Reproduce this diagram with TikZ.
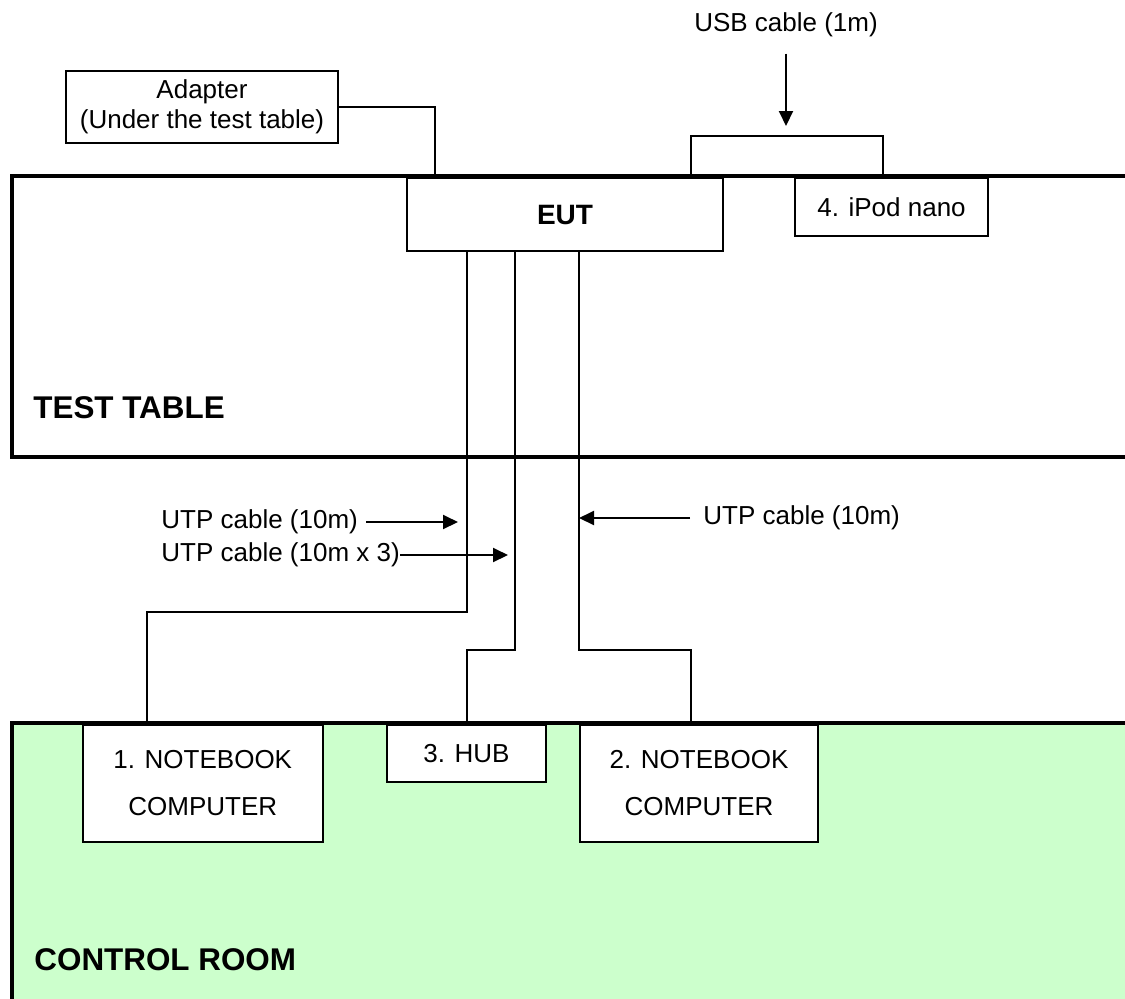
\documentclass[tikz,border=0pt]{standalone}
\usepackage{fontspec}
\setmainfont{Liberation Sans}
\usetikzlibrary{arrows.meta}
\definecolor{roomgreen}{HTML}{CCFFCC}
\tikzset{
         box/.style={draw,fill=white,line width=1pt,inner sep=0pt,align=center,font=\fontsize{13}{15}\selectfont},
         wall/.style={line width=2.25pt},
         cable/.style={line width=1pt},
         lbl/.style={inner sep=0pt,font=\fontsize{13}{15}\selectfont},
         roomlbl/.style={inner sep=0pt,anchor=west,font=\fontsize{15.7}{18}\selectfont\bfseries},
         ar/.style={line width=1pt,-{Triangle[length=7.5pt,width=7pt]}}
        }

\begin{document}
\begin{tikzpicture}[x=0.5pt,y=-0.5pt]
\useasboundingbox(0,0)rectangle(1125,998);

%rooms
\fill[roomgreen](12,723)rectangle(1130,1003);
\draw[wall](1130,723)--(12,723)--(12,1003);
\draw[wall](1130,176)--(12,176)--(12,457)--(1130,457);
\node[roomlbl](tbl)at(33,408){TEST TABLE};
\node[roomlbl](ctl)at(34,960){CONTROL ROOM};

%equipment
\node[box,minimum width=136pt,minimum height=36pt](adapter)at(202,107){Adapter\\(Under the test table)};
\node[box,minimum width=158pt,minimum height=36.5pt,font=\fontsize{14}{16}\selectfont\bfseries](eut)at(565,214.5){EUT};
\node[box,minimum width=96.5pt,minimum height=29pt](ipod)at(891.5,207){4. iPod nano};
\node[box,minimum width=120pt,minimum height=58.5pt](nb1)at(202.75,783.5){1. NOTEBOOK\\[8.5pt]COMPUTER};
\node[box,minimum width=79.5pt,minimum height=28.5pt](hub)at(466.5,753.5){3. HUB};
\node[box,minimum width=119pt,minimum height=58.5pt](nb2)at(699,783.5){2. NOTEBOOK\\[8.5pt]COMPUTER};

%power and usb
\coordinate(pw)at(435,176);
\draw[cable](adapter.east)-|(pw);
\coordinate(usba)at(691,176);
\coordinate(usbb)at(883,176);
\coordinate(usbtop)at(786,136);
\draw[cable](usba)|-(usbtop)-|(usbb);
\node[lbl](usblbl)at(786,25){USB cable (1m)};
\draw[ar,shorten <=8pt,shorten >=5pt](usblbl.south)--(usbtop);

%utp cables
\coordinate(e1)at(467,251);
\coordinate(e2)at(515,251);
\coordinate(e3)at(579,251);
\draw[cable](e1)--++(0,361)-|([xshift=-27.9pt]nb1.north);
\draw[cable](e2)--++(0,399)-|(hub.north);
\draw[cable](e3)--++(0,399)-|([xshift=-4pt]nb2.north);

\node[lbl,anchor=west](utp1)at(161,522){UTP cable (10m)};
\draw[ar,shorten <=4pt,shorten >=4.5pt](utp1.east)--(utp1-|e1);
\node[lbl,anchor=west](utp2)at(161,555){UTP cable (10m x 3)};
\draw[ar,shorten >=3.5pt](utp2.east)--(utp2-|e2);
\node[lbl,anchor=west](utp3)at(703,518){UTP cable (10m)};
\draw[ar,shorten <=6.5pt](utp3.west)--(utp3-|e3);

\end{tikzpicture}
\end{document}
